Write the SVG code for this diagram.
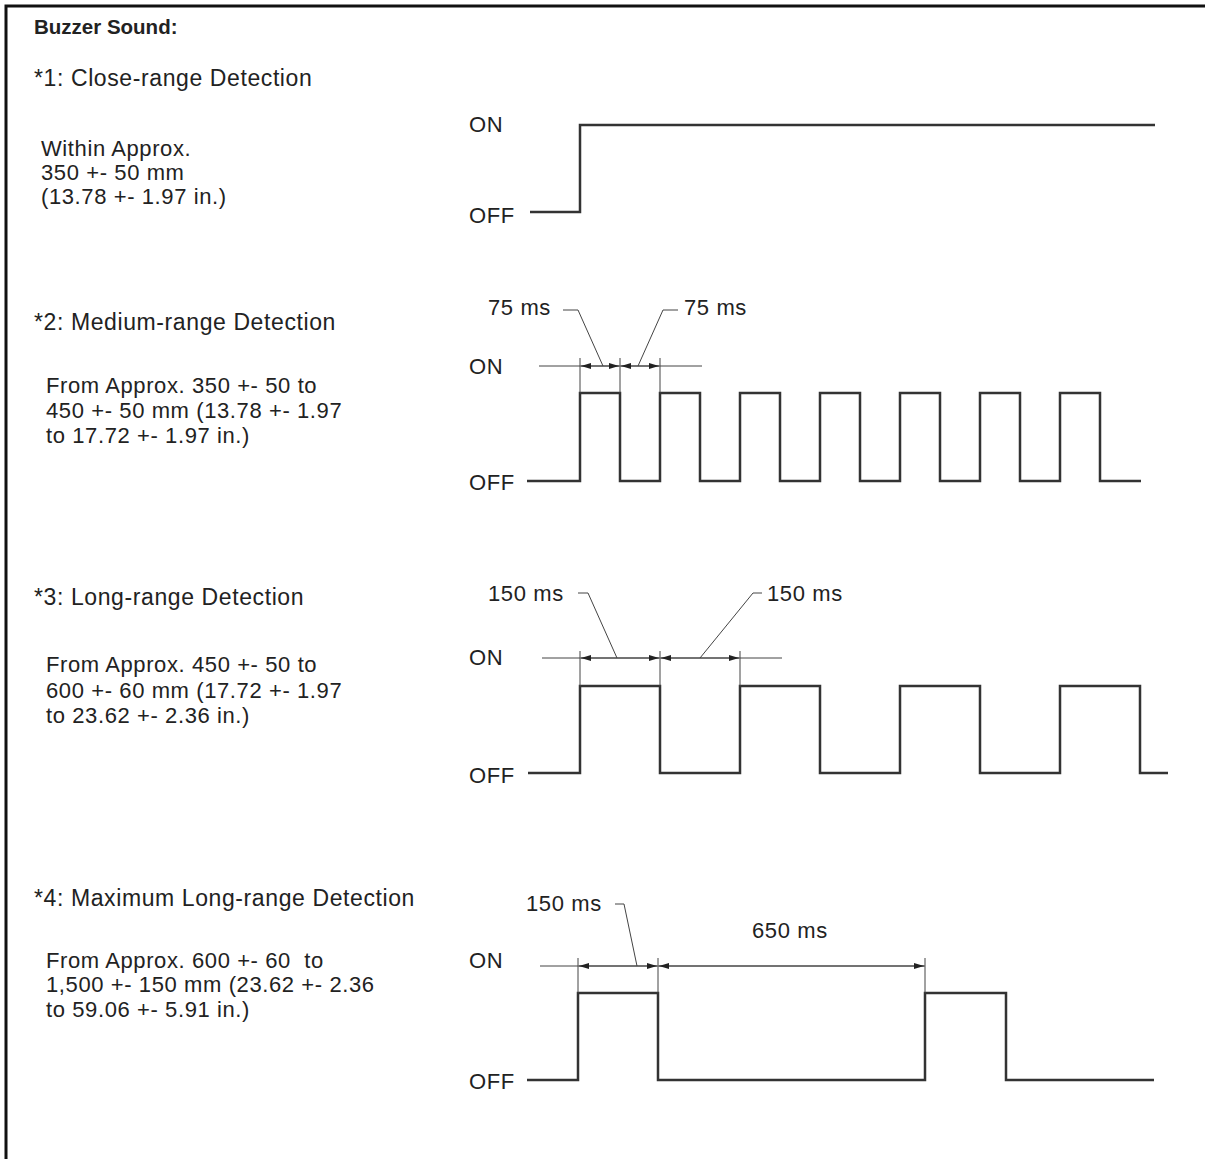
<svg xmlns="http://www.w3.org/2000/svg" width="1205" height="1159" viewBox="0 0 1205 1159">
<style>
text{font-family:"Liberation Sans",Arial,sans-serif;font-size:22px;letter-spacing:0.6px;fill:#222}
.b{font-weight:bold;font-size:20.5px;letter-spacing:0}
.h{font-size:23px}
.w{fill:none;stroke:#333;stroke-width:2.5;stroke-linejoin:miter}
.d{fill:none;stroke:#444;stroke-width:1}
.dm{fill:none;stroke:#444;stroke-width:1;marker-start:url(#ah);marker-end:url(#ah)}
.frame{fill:none;stroke:#111;stroke-width:3}
</style>
<defs>
<marker id="ah" viewBox="0 0 10 6" refX="10" refY="3" markerWidth="10" markerHeight="6" markerUnits="userSpaceOnUse" orient="auto-start-reverse">
<path d="M0,0 L10,3 L0,6 Z" fill="#222"/>
</marker>
</defs>
<rect width="1205" height="1159" fill="#fff"/>
<path class="frame" d="M6,1159 V6 H1205"/>
<text class="b" x="34" y="34">Buzzer Sound:</text>

<g id="sec1">
<text class="h" x="34" y="86">*1: Close-range Detection</text>
<text x="41" y="156">Within Approx.</text>
<text x="41" y="180">350 +- 50 mm</text>
<text x="41" y="204">(13.78 +- 1.97 in.)</text>
<text x="469" y="132">ON</text>
<text x="469" y="223">OFF</text>
<path class="w" d="M530,212 H580 V125 H1155"/>
</g>

<g id="sec2">
<text class="h" x="34" y="330">*2: Medium-range Detection</text>
<text x="46" y="393">From Approx. 350 +- 50 to</text>
<text x="46" y="418">450 +- 50 mm (13.78 +- 1.97</text>
<text x="46" y="443">to 17.72 +- 1.97 in.)</text>
<text x="488" y="315">75 ms</text>
<text x="684" y="315">75 ms</text>
<text x="469" y="374">ON</text>
<text x="469" y="490">OFF</text>
<path class="w" d="M527,481 H580 V393 H620 V481 H660 V393 H700 V481 H740 V393 H780 V481 H820 V393 H860 V481 H900 V393 H940 V481 H980 V393 H1020 V481 H1060 V393 H1100 V481 H1141"/>
</g>

<g id="sec3">
<text class="h" x="34" y="605">*3: Long-range Detection</text>
<text x="46" y="672">From Approx. 450 +- 50 to</text>
<text x="46" y="698">600 +- 60 mm (17.72 +- 1.97</text>
<text x="46" y="723">to 23.62 +- 2.36 in.)</text>
<text x="488" y="601">150 ms</text>
<text x="767" y="601">150 ms</text>
<text x="469" y="665">ON</text>
<text x="469" y="783">OFF</text>
<path class="w" d="M528,773 H580 V686 H660 V773 H740 V686 H820 V773 H900 V686 H980 V773 H1060 V686 H1140 V773 H1168"/>
</g>

<g id="sec4">
<text class="h" x="34" y="906">*4: Maximum Long-range Detection</text>
<text x="46" y="968" xml:space="preserve">From Approx. 600 +- 60  to</text>
<text x="46" y="992">1,500 +- 150 mm (23.62 +- 2.36</text>
<text x="46" y="1017">to 59.06 +- 5.91 in.)</text>
<text x="526" y="911">150 ms</text>
<text x="752" y="938">650 ms</text>
<text x="469" y="968">ON</text>
<text x="469" y="1089">OFF</text>
<path class="w" d="M527,1080 H578 V993 H658 V1080 H925 V993 H1006 V1080 H1154"/>
</g>

<g id="connectors">
<path class="d" d="M539,366 H702"/>
<path class="d" d="M580,358 V393 M620,358 V393 M660,358 V393"/>
<path class="dm" d="M581,366 H619"/>
<path class="dm" d="M621,366 H659"/>
<path class="d" d="M563,310 H578 L603,366"/>
<path class="d" d="M678,310 H663 L638,366"/>
<path class="d" d="M542,658 H782"/>
<path class="d" d="M580,651 V686 M660,651 V686 M740,651 V686"/>
<path class="dm" d="M581,658 H659"/>
<path class="dm" d="M661,658 H739"/>
<path class="d" d="M578,593 H588 L617,658"/>
<path class="d" d="M762,593 H753 L700,658"/>
<path class="d" d="M540,966 H925"/>
<path class="d" d="M578,958 V993 M658,958 V993 M925,958 V993"/>
<path class="dm" d="M579,966 H657"/>
<path class="dm" d="M659,966 H924"/>
<path class="d" d="M615,904 H624 L637,966"/>
</g>
</svg>
